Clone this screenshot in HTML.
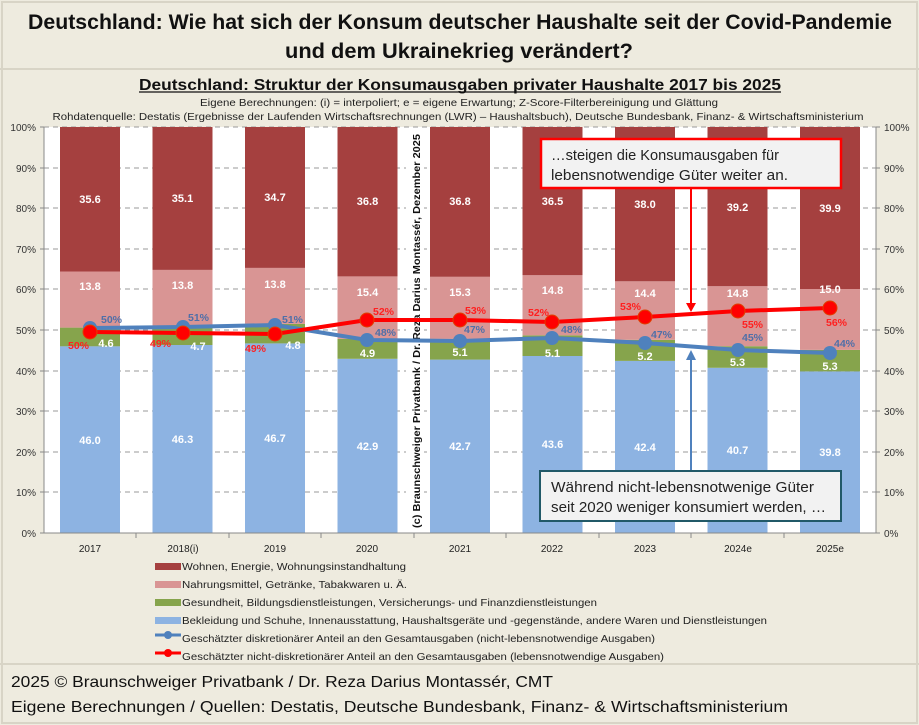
<!DOCTYPE html>
<html><head><meta charset="utf-8"><style>
html,body{margin:0;padding:0;background:#eeebdf}
svg{display:block;font-family:"Liberation Sans",sans-serif}
</style></head><body>
<svg width="919" height="725" viewBox="0 0 919 725" xmlns="http://www.w3.org/2000/svg">
<rect x="0" y="0" width="919" height="725" fill="#eeebdf"/>
<rect x="2" y="2" width="915" height="721" fill="none" stroke="#d8d4c6" stroke-width="2"/>
<line x1="0" y1="69" x2="919" y2="69" stroke="#d8d4c6" stroke-width="2"/>
<line x1="0" y1="664" x2="919" y2="664" stroke="#d8d4c6" stroke-width="2"/>
<g font-weight="bold" fill="#111" text-anchor="middle">
<text x="460" y="29" font-size="21" textLength="864" lengthAdjust="spacingAndGlyphs">Deutschland: Wie hat sich der Konsum deutscher Haushalte seit der Covid-Pandemie</text>
<text x="459" y="58" font-size="21" textLength="348" lengthAdjust="spacingAndGlyphs">und dem Ukrainekrieg verändert?</text>
<text x="460" y="90" font-size="16" textLength="642" lengthAdjust="spacingAndGlyphs">Deutschland:  Struktur  der Konsumausgaben  privater  Haushalte  2017 bis 2025</text>
</g>
<line x1="139" y1="92" x2="781" y2="92" stroke="#111" stroke-width="1.3"/>
<g fill="#222" text-anchor="middle" font-size="10.5">
<text x="459" y="106" textLength="518" lengthAdjust="spacingAndGlyphs">Eigene Berechnungen: (i) = interpoliert; e = eigene Erwartung; Z-Score-Filterbereinigung und Glättung</text>
<text x="458" y="120" textLength="811" lengthAdjust="spacingAndGlyphs">Rohdatenquelle: Destatis (Ergebnisse der Laufenden Wirtschaftsrechnungen (LWR) – Haushaltsbuch), Deutsche Bundesbank, Finanz- &amp; Wirtschaftsministerium</text>
</g>
<rect x="44" y="127" width="832" height="406" fill="#fff"/>
<g stroke="#999" stroke-dasharray="5,4" stroke-width="1">
<line x1="44" y1="127" x2="876" y2="127"/><line x1="44" y1="168" x2="876" y2="168"/>
<line x1="44" y1="208" x2="876" y2="208"/><line x1="44" y1="249" x2="876" y2="249"/>
<line x1="44" y1="289" x2="876" y2="289"/><line x1="44" y1="330" x2="876" y2="330"/>
<line x1="44" y1="371" x2="876" y2="371"/><line x1="44" y1="411" x2="876" y2="411"/>
<line x1="44" y1="452" x2="876" y2="452"/><line x1="44" y1="492" x2="876" y2="492"/>
</g>
<g>
<rect x="60" y="346.2" width="60" height="186.8" fill="#8db3e2"/><rect x="60" y="327.6" width="60" height="18.7" fill="#86a44c"/><rect x="60" y="271.5" width="60" height="56.1" fill="#d99594"/><rect x="60" y="127" width="60" height="144.5" fill="#a5403f"/>
<rect x="152.5" y="345.0" width="60" height="188" fill="#8db3e2"/><rect x="152.5" y="325.9" width="60" height="19.1" fill="#86a44c"/><rect x="152.5" y="269.9" width="60" height="56" fill="#d99594"/><rect x="152.5" y="127" width="60" height="142.9" fill="#a5403f"/>
<rect x="245" y="343.4" width="60" height="189.6" fill="#8db3e2"/><rect x="245" y="323.9" width="60" height="19.5" fill="#86a44c"/><rect x="245" y="267.9" width="60" height="56" fill="#d99594"/><rect x="245" y="127" width="60" height="140.9" fill="#a5403f"/>
<rect x="337.5" y="358.8" width="60" height="174.2" fill="#8db3e2"/><rect x="337.5" y="338.9" width="60" height="19.9" fill="#86a44c"/><rect x="337.5" y="276.4" width="60" height="62.5" fill="#d99594"/><rect x="337.5" y="127" width="60" height="149.4" fill="#a5403f"/>
<rect x="430" y="359.6" width="60" height="173.4" fill="#8db3e2"/><rect x="430" y="338.9" width="60" height="20.7" fill="#86a44c"/><rect x="430" y="276.8" width="60" height="62.1" fill="#d99594"/><rect x="430" y="127" width="60" height="149.8" fill="#a5403f"/>
<rect x="522.5" y="356.0" width="60" height="177" fill="#8db3e2"/><rect x="522.5" y="335.3" width="60" height="20.7" fill="#86a44c"/><rect x="522.5" y="275.2" width="60" height="60.1" fill="#d99594"/><rect x="522.5" y="127" width="60" height="148.2" fill="#a5403f"/>
<rect x="615" y="360.9" width="60" height="172.1" fill="#8db3e2"/><rect x="615" y="339.8" width="60" height="21.1" fill="#86a44c"/><rect x="615" y="281.3" width="60" height="58.5" fill="#d99594"/><rect x="615" y="127" width="60" height="154.3" fill="#a5403f"/>
<rect x="707.5" y="367.8" width="60" height="165.2" fill="#8db3e2"/><rect x="707.5" y="346.2" width="60" height="21.6" fill="#86a44c"/><rect x="707.5" y="286.2" width="60" height="60" fill="#d99594"/><rect x="707.5" y="127" width="60" height="159.2" fill="#a5403f"/>
<rect x="800" y="371.4" width="60" height="161.6" fill="#8db3e2"/><rect x="800" y="349.9" width="60" height="21.5" fill="#86a44c"/><rect x="800" y="289" width="60" height="60.9" fill="#d99594"/><rect x="800" y="127" width="60" height="162" fill="#a5403f"/>
</g>
<g font-size="11" font-weight="bold" fill="#fff" text-anchor="middle">
<text x="90" y="444">46.0</text><text x="106" y="347">4.6</text><text x="90" y="290">13.8</text><text x="90" y="203">35.6</text>
<text x="182.5" y="443">46.3</text><text x="198" y="350">4.7</text><text x="182.5" y="289">13.8</text><text x="182.5" y="202">35.1</text>
<text x="275" y="442">46.7</text><text x="293" y="349">4.8</text><text x="275" y="288">13.8</text><text x="275" y="201">34.7</text>
<text x="367.5" y="450">42.9</text><text x="367.5" y="357">4.9</text><text x="367.5" y="296">15.4</text><text x="367.5" y="205">36.8</text>
<text x="460" y="450">42.7</text><text x="460" y="356">5.1</text><text x="460" y="296">15.3</text><text x="460" y="205">36.8</text>
<text x="552.5" y="448">43.6</text><text x="552.5" y="357">5.1</text><text x="552.5" y="294">14.8</text><text x="552.5" y="205">36.5</text>
<text x="645" y="451">42.4</text><text x="645" y="360">5.2</text><text x="645" y="297">14.4</text><text x="645" y="208">38.0</text>
<text x="737.5" y="454">40.7</text><text x="737.5" y="366">5.3</text><text x="737.5" y="297">14.8</text><text x="737.5" y="211">39.2</text>
<text x="830" y="456">39.8</text><text x="830" y="370">5.3</text><text x="830" y="293">15.0</text><text x="830" y="212">39.9</text>
</g>
<g stroke="#888" stroke-width="1">
<line x1="44" y1="127" x2="44" y2="533"/><line x1="876" y1="127" x2="876" y2="533"/>
<line x1="44" y1="533" x2="876" y2="533"/>
<line x1="40" y1="127" x2="44" y2="127"/><line x1="40" y1="168" x2="44" y2="168"/><line x1="40" y1="208" x2="44" y2="208"/><line x1="40" y1="249" x2="44" y2="249"/><line x1="40" y1="289" x2="44" y2="289"/><line x1="40" y1="330" x2="44" y2="330"/><line x1="40" y1="371" x2="44" y2="371"/><line x1="40" y1="411" x2="44" y2="411"/><line x1="40" y1="452" x2="44" y2="452"/><line x1="40" y1="492" x2="44" y2="492"/><line x1="40" y1="533" x2="44" y2="533"/>
<line x1="876" y1="127" x2="880" y2="127"/><line x1="876" y1="168" x2="880" y2="168"/><line x1="876" y1="208" x2="880" y2="208"/><line x1="876" y1="249" x2="880" y2="249"/><line x1="876" y1="289" x2="880" y2="289"/><line x1="876" y1="330" x2="880" y2="330"/><line x1="876" y1="371" x2="880" y2="371"/><line x1="876" y1="411" x2="880" y2="411"/><line x1="876" y1="452" x2="880" y2="452"/><line x1="876" y1="492" x2="880" y2="492"/><line x1="876" y1="533" x2="880" y2="533"/>
<line x1="136" y1="533" x2="136" y2="538"/><line x1="229" y1="533" x2="229" y2="538"/><line x1="321" y1="533" x2="321" y2="538"/><line x1="414" y1="533" x2="414" y2="538"/><line x1="506" y1="533" x2="506" y2="538"/><line x1="599" y1="533" x2="599" y2="538"/><line x1="691" y1="533" x2="691" y2="538"/><line x1="784" y1="533" x2="784" y2="538"/>
</g>
<g font-size="10" fill="#333" text-anchor="end">
<text x="36" y="131">100%</text><text x="36" y="172">90%</text><text x="36" y="212">80%</text><text x="36" y="253">70%</text><text x="36" y="293">60%</text><text x="36" y="334">50%</text><text x="36" y="375">40%</text><text x="36" y="415">30%</text><text x="36" y="456">20%</text><text x="36" y="496">10%</text><text x="36" y="537">0%</text>
</g>
<g font-size="10" fill="#333" text-anchor="start">
<text x="884" y="131">100%</text><text x="884" y="172">90%</text><text x="884" y="212">80%</text><text x="884" y="253">70%</text><text x="884" y="293">60%</text><text x="884" y="334">50%</text><text x="884" y="375">40%</text><text x="884" y="415">30%</text><text x="884" y="456">20%</text><text x="884" y="496">10%</text><text x="884" y="537">0%</text>
</g>
<g font-size="10" fill="#222" text-anchor="middle">
<text x="90" y="552">2017</text><text x="183" y="552">2018(i)</text><text x="275" y="552">2019</text><text x="367" y="552">2020</text><text x="460" y="552">2021</text><text x="552" y="552">2022</text><text x="645" y="552">2023</text><text x="738" y="552">2024e</text><text x="830" y="552">2025e</text>
</g>
<rect x="406" y="132" width="18" height="396" fill="#fff"/>
<text transform="translate(420,528) rotate(-90)" font-size="10.5" font-weight="bold" fill="#111" textLength="394" lengthAdjust="spacingAndGlyphs">(c) Braunschweiger Privatbank / Dr. Reza Darius Montassér, Dezember 2025</text>
<polyline points="90,328 183,327 275,325 367,340 460,341 552,338 645,343 738,350 830,353" fill="none" stroke="#4f81bd" stroke-width="4"/>
<g fill="#4f81bd"><circle cx="90" cy="328" r="7"/><circle cx="183" cy="327" r="7"/><circle cx="275" cy="325" r="7"/><circle cx="367" cy="340" r="7"/><circle cx="460" cy="341" r="7"/><circle cx="552" cy="338" r="7"/><circle cx="645" cy="343" r="7"/><circle cx="738" cy="350" r="7"/><circle cx="830" cy="353" r="7"/></g>
<polyline points="90,332 183,333 275,334 367,320 460,320 552,322 645,317 738,311 830,308" fill="none" stroke="#ff0000" stroke-width="4"/>
<g fill="#ff0000" stroke="#e04000" stroke-width="1"><circle cx="90" cy="332" r="7"/><circle cx="183" cy="333" r="7"/><circle cx="275" cy="334" r="7"/><circle cx="367" cy="320" r="7"/><circle cx="460" cy="320" r="7"/><circle cx="552" cy="322" r="7"/><circle cx="645" cy="317" r="7"/><circle cx="738" cy="311" r="7"/><circle cx="830" cy="308" r="7"/></g>
<g font-size="10.5" font-weight="bold" fill="#4f6fa8">
<text x="101" y="323">50%</text><text x="188" y="321">51%</text><text x="282" y="323">51%</text><text x="375" y="336">48%</text><text x="464" y="333">47%</text><text x="561" y="333">48%</text><text x="651" y="338">47%</text><text x="742" y="341">45%</text><text x="834" y="347">44%</text>
</g>
<g font-size="10.5" font-weight="bold" fill="#ff2020">
<text x="68" y="349">50%</text><text x="150" y="347">49%</text><text x="245" y="352">49%</text><text x="373" y="315">52%</text><text x="465" y="314">53%</text><text x="528" y="316">52%</text><text x="620" y="310">53%</text><text x="742" y="328">55%</text><text x="826" y="326">56%</text>
</g>
<line x1="691" y1="189" x2="691" y2="305" stroke="#ff0000" stroke-width="2"/>
<polygon points="686,303 696,303 691,312" fill="#ff0000"/>
<rect x="541" y="139" width="300" height="49" fill="#f2f2f2" stroke="#ff0000" stroke-width="2.5"/>
<text x="551" y="160" font-size="14.5" fill="#222" textLength="228" lengthAdjust="spacingAndGlyphs">…steigen die Konsumausgaben für</text>
<text x="551" y="180" font-size="14.5" fill="#222" textLength="237" lengthAdjust="spacingAndGlyphs">lebensnotwendige Güter weiter an.</text>
<line x1="691" y1="470" x2="691" y2="358" stroke="#4f81bd" stroke-width="2"/>
<polygon points="686,360 696,360 691,350" fill="#4f81bd"/>
<rect x="540" y="471" width="301" height="50" fill="#f2f2f2" stroke="#215968" stroke-width="2"/>
<text x="551" y="492" font-size="14.5" fill="#222" textLength="263" lengthAdjust="spacingAndGlyphs">Während nicht-lebensnotwenige Güter</text>
<text x="551" y="512" font-size="14.5" fill="#222" textLength="275" lengthAdjust="spacingAndGlyphs">seit 2020 weniger konsumiert werden, …</text>
<rect x="155" y="563" width="26" height="7" fill="#a5403f"/>
<rect x="155" y="581" width="26" height="7" fill="#d99594"/>
<rect x="155" y="599" width="26" height="7" fill="#86a44c"/>
<rect x="155" y="617" width="26" height="7" fill="#8db3e2"/>
<line x1="155" y1="635" x2="181" y2="635" stroke="#4f81bd" stroke-width="3"/><circle cx="168" cy="635" r="4" fill="#4f81bd"/>
<line x1="155" y1="653" x2="181" y2="653" stroke="#ff0000" stroke-width="3"/><circle cx="168" cy="653" r="4" fill="#ff0000"/>
<g font-size="10.5" fill="#222">
<text x="182" y="570" textLength="224" lengthAdjust="spacingAndGlyphs">Wohnen, Energie, Wohnungsinstandhaltung</text>
<text x="182" y="588" textLength="225" lengthAdjust="spacingAndGlyphs">Nahrungsmittel, Getränke, Tabakwaren u. Ä.</text>
<text x="182" y="606" textLength="415" lengthAdjust="spacingAndGlyphs">Gesundheit, Bildungsdienstleistungen, Versicherungs- und Finanzdienstleistungen</text>
<text x="182" y="624" textLength="585" lengthAdjust="spacingAndGlyphs">Bekleidung und Schuhe, Innenausstattung, Haushaltsgeräte und -gegenstände, andere Waren und Dienstleistungen</text>
<text x="182" y="642" textLength="473" lengthAdjust="spacingAndGlyphs">Geschätzter diskretionärer Anteil an den Gesamtausgaben (nicht-lebensnotwendige Ausgaben)</text>
<text x="182" y="660" textLength="482" lengthAdjust="spacingAndGlyphs">Geschätzter nicht-diskretionärer Anteil an den Gesamtausgaben (lebensnotwendige Ausgaben)</text>
</g>
<g font-size="16" fill="#111">
<text x="11" y="687" textLength="542" lengthAdjust="spacingAndGlyphs">2025 © Braunschweiger Privatbank / Dr. Reza Darius Montassér, CMT</text>
<text x="11" y="712" textLength="777" lengthAdjust="spacingAndGlyphs">Eigene Berechnungen / Quellen: Destatis, Deutsche Bundesbank, Finanz- &amp; Wirtschaftsministerium</text>
</g>
</svg>
</body></html>
